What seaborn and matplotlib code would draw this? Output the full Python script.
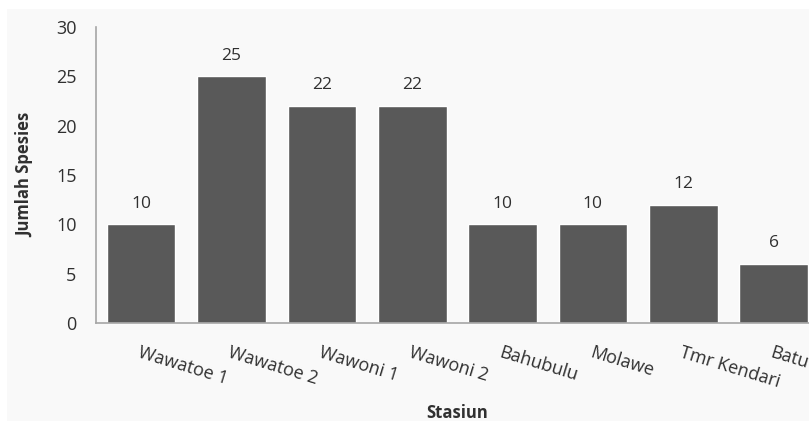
import numpy as np
import seaborn as sns
import matplotlib.pyplot as plt
from matplotlib.patches import Rectangle

stations = ['Wawatoe 1', 'Wawatoe 2', 'Wawoni 1', 'Wawoni 2',
            'Bahubulu', 'Molawe', 'Tmr Kendari', 'Batu']
species = [10, 25, 22, 22, 10, 10, 12, 6]

sns.set_theme(style='white')
plt.rcParams['font.family'] = ['Open Sans', 'DejaVu Sans']

W, H = 809, 423
fig = plt.figure(figsize=(W / 100, H / 100), dpi=100, facecolor='white')

# ── Off-white panel behind the chart ───────────────────────────────────────
fig.patches.append(Rectangle((7 / W, 2 / H), 1, 412 / H,
                             transform=fig.transFigure,
                             facecolor='#f9f9f9', edgecolor='none', zorder=-1))

# axes runs past the right edge, so the last bar is cut off
left, right, bottom, top = 96, 818.7, 323, 27
ax = fig.add_axes([left / W, (H - bottom) / H,
                   (right - left) / W, (bottom - top) / H])
ax.set_facecolor('none')

sns.barplot(x=stations, y=species, color='#595959', width=0.76,
            saturation=1, ax=ax, clip_on=False)
ax.set_xlim(-0.5, len(stations) - 0.5)
ax.set_ylim(0, 30)
ax.set_yticks(np.arange(0, 31, 5))

ax.bar_label(ax.containers[0], padding=9, fontsize=12.5, color='#303030')

for s in ['top', 'right']:
    ax.spines[s].set_visible(False)
for s in ['left', 'bottom']:
    ax.spines[s].set_color('#a6a6a6')
    ax.spines[s].set_linewidth(1.2)

ax.tick_params(axis='y', length=0, pad=14, labelsize=13, labelcolor='#303030')
ax.tick_params(axis='x', length=0, pad=15, labelsize=13, labelcolor='#303030')
for lbl in ax.get_xticklabels():
    lbl.set_rotation(-17)
    lbl.set_ha('left')
    lbl.set_va('top')
    lbl.set_rotation_mode('anchor')

ax.set_xlabel('Stasiun', fontsize=12, fontweight='bold', color='#303030')
ax.set_ylabel('Jumlah Spesies', fontsize=12, fontweight='bold', color='#303030')
ax.xaxis.set_label_coords(0.5, -0.272)
ax.yaxis.set_label_coords(-0.086, 0.5)

plt.savefig('out.png', dpi=100, facecolor='white')
